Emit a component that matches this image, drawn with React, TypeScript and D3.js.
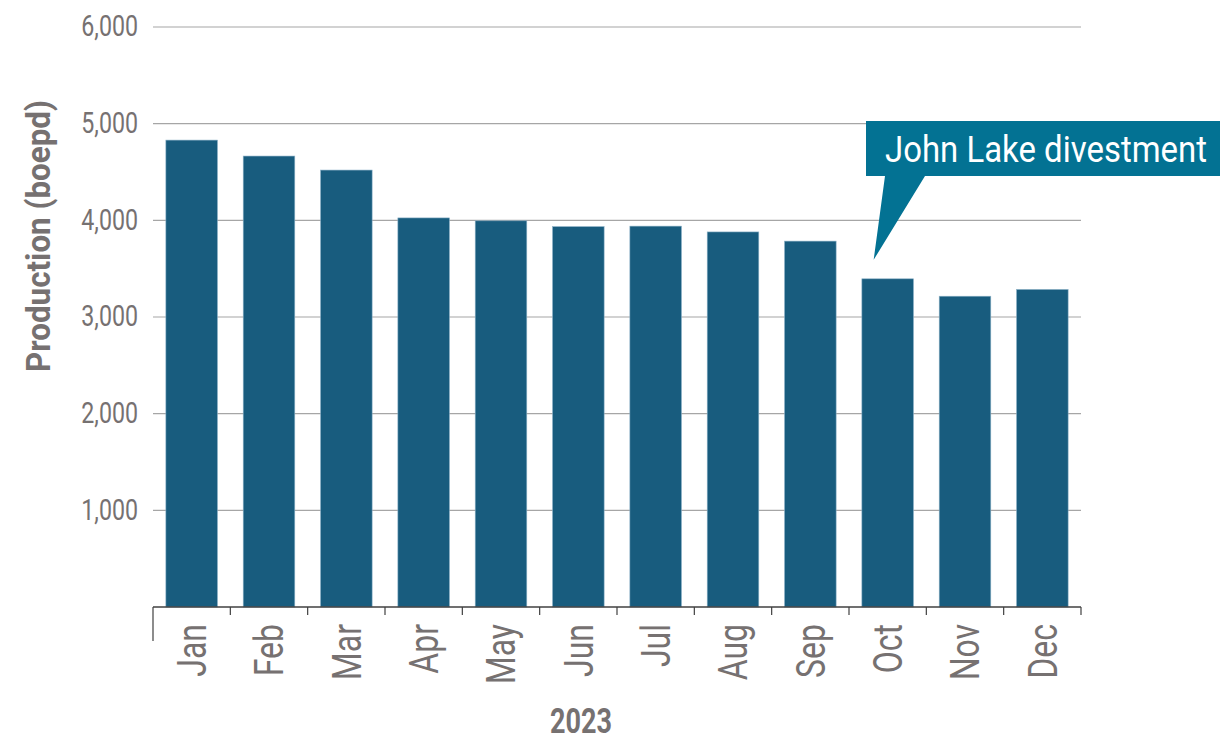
import React from "react";
import * as d3 from "d3";

const months = ["Jan", "Feb", "Mar", "Apr", "May", "Jun", "Jul", "Aug", "Sep", "Oct", "Nov", "Dec"];
const production = [4830, 4665, 4520, 4025, 3995, 3935, 3940, 3880, 3785, 3395, 3215, 3285];
const yTicks = [1000, 2000, 3000, 4000, 5000, 6000];
const yTitle = "Production (boepd)";
const xTitle = "2023";
const calloutText = "John Lake divestment";
const calloutMonth = "Oct";

const FONT = "Roboto, 'Noto Sans', sans-serif";
const SX = 0.8;

export default function App() {
  const W = 1220, H = 740;
  const x0 = 153, x1 = 1081, yTop = 27, yBase = 607;
  const x = d3.scaleBand<string>().domain(months).range([x0, x1]).paddingInner(0.333).paddingOuter(0.1665);
  const y = d3.scaleLinear().domain([0, 6000]).range([yBase, yTop]);
  const fmt = d3.format(",");
  const step = x.step();
  const boundaries = d3.range(months.length + 1).map((i) => x0 + i * step);

  const cx = (x(calloutMonth) as number) + x.bandwidth() / 2;
  const cv = production[months.indexOf(calloutMonth)];
  const tipY = y(cv) - 19;
  const boxX = 866, boxY = 121, boxH = 55;
  const textGray = "#767171";

  return (
    <svg width={W} height={H} style={{ position: "absolute", left: 0, top: 0 }} fontFamily={FONT}>
      <rect width={W} height={H} fill="#fff" />
      {yTicks.map((t) => (
        <g key={t}>
          <line x1={x0} x2={x1} y1={y(t)} y2={y(t)} stroke="#a6a6a6" strokeWidth={1.2} />
          <text
            transform={`translate(138,${y(t) - 1}) scale(${SX},1)`}
            dy="0.36em"
            textAnchor="end"
            fontSize={29}
            fill={textGray}
          >
            {fmt(t)}
          </text>
        </g>
      ))}
      {months.map((m, i) => (
        <rect
          key={m}
          x={x(m)}
          y={y(production[i])}
          width={x.bandwidth()}
          height={yBase - y(production[i])}
          fill="#185c7e"
          stroke="#8ab0c6"
          strokeWidth={0.6}
        />
      ))}
      <line x1={x0} x2={x1} y1={yBase} y2={yBase} stroke="#404040" strokeWidth={1.5} />
      {boundaries.map((bx, i) => (
        <line key={i} x1={bx} x2={bx} y1={yBase} y2={i === 0 ? yBase + 34 : yBase + 8} stroke="#404040" strokeWidth={1.2} />
      ))}
      {months.map((m) => (
        <text
          key={m}
          transform={`translate(${(x(m) as number) + x.bandwidth() / 2},${yBase + 17}) rotate(-90) scale(${SX},1)`}
          textAnchor="end"
          dy="0.36em"
          fontSize={40}
          fill={textGray}
        >
          {m}
        </text>
      ))}
      <text
        transform={`translate(38,236) rotate(-90)`}
        textAnchor="middle"
        dy="0.36em"
        fontSize={33}
        fontWeight="bold"
        fill={textGray}
        textLength={272}
        lengthAdjust="spacingAndGlyphs"
      >
        {yTitle}
      </text>
      <text
        x={581}
        y={720}
        textAnchor="middle"
        dy="0.36em"
        fontSize={35}
        fontWeight="bold"
        fill={textGray}
        textLength={62}
        lengthAdjust="spacingAndGlyphs"
      >
        {xTitle}
      </text>
      <path
        d={`M${boxX},${boxY} H${W} V${boxY + boxH} H${925} L${cx - 14},${tipY} L${885},${boxY + boxH} H${boxX} Z`}
        fill="#037293"
      />
      <text
        x={885}
        y={162}
        fontSize={37.5}
        fill="#fff"
        textLength={322}
        lengthAdjust="spacingAndGlyphs"
      >
        {calloutText}
      </text>
    </svg>
  );
}
